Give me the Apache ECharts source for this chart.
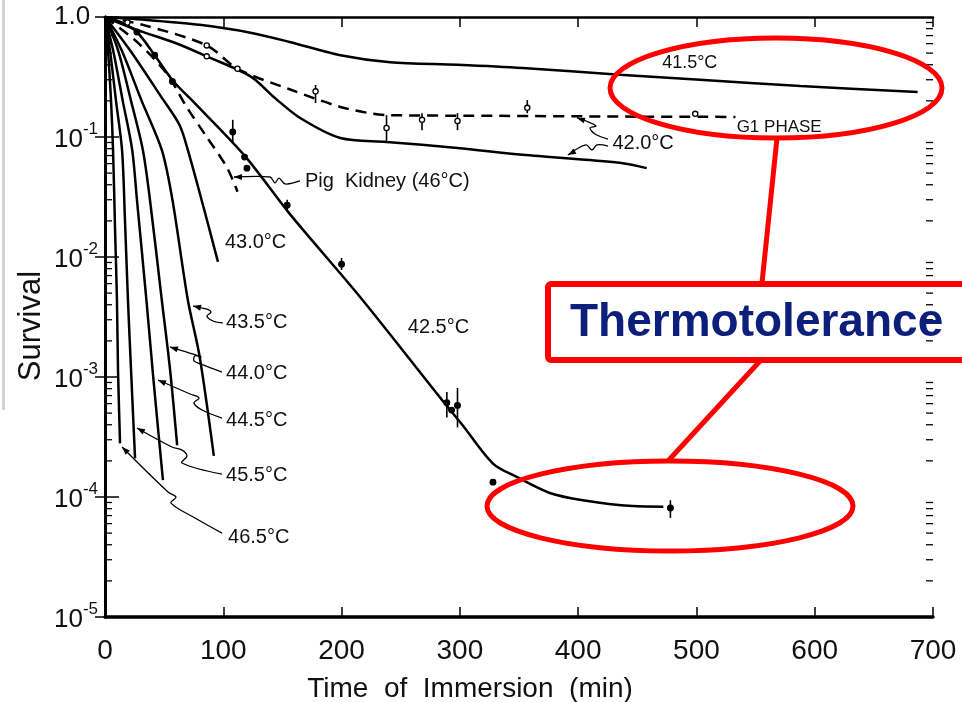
<!DOCTYPE html>
<html>
<head>
<meta charset="utf-8">
<script src="https://cdn.jsdelivr.net/npm/echarts@6/dist/echarts.min.js"></script>
<style>
  html, body { margin: 0; padding: 0; background: #fff; }
  #chart { width: 962px; height: 702px; }
</style>
</head>
<body>
<div id="chart"></div>
<script>
// Survival of cells versus time of immersion at several temperatures.
// Times are in minutes, survival is the surviving fraction.

const t415 = [0, 38, 80, 123, 156, 199, 241, 298, 353, 435, 503, 588, 687];
const s415 = [1.0, 0.94, 0.86, 0.74, 0.62, 0.48, 0.42, 0.40, 0.376, 0.33, 0.30, 0.266, 0.237];

const t420 = [0, 27, 59, 86, 123, 144, 165, 199, 238, 298, 353, 435, 458];
const s420 = [1.0, 0.78, 0.61, 0.47, 0.32, 0.21, 0.144, 0.098, 0.091, 0.081, 0.071, 0.061, 0.055];

const tG1 = [0, 32, 86, 112, 156, 199, 227, 241, 334, 435, 533];
const sG1 = [1.0, 0.86, 0.58, 0.37, 0.25, 0.178, 0.156, 0.152, 0.150, 0.148, 0.147];

const t425 = [0, 13, 27, 42, 58, 74, 118, 156, 216, 283, 302, 328, 348, 376, 404, 446, 472];
const s425 = [1.0, 0.91, 0.75, 0.48, 0.29, 0.20, 0.070, 0.023, 0.0046, 6.8e-4, 4.0e-4, 1.9e-4, 1.47e-4, 1.08e-4, 9.4e-5, 8.4e-5, 8.3e-5];

const tPig = [0, 27, 52, 69, 86, 103, 112];
const sPig = [1.0, 0.62, 0.34, 0.178, 0.10, 0.056, 0.035];

const t430 = [0, 21, 47, 63, 70, 84, 95.5];
const s430 = [1.0, 0.53, 0.22, 0.126, 0.078, 0.0245, 0.0091];

const t435 = [0, 14, 31, 48, 57, 70, 80, 92];
const s435 = [1.0, 0.53, 0.20, 0.078, 0.030, 4.4e-3, 1.48e-3, 2.2e-4];

const t440 = [0, 11, 22, 32, 38, 48, 55, 61];
const s440 = [1.0, 0.53, 0.20, 0.078, 0.030, 4.4e-3, 1.15e-3, 2.7e-4];

const t445 = [0, 6.8, 15, 23, 27, 35, 41, 49];
const s445 = [1.0, 0.53, 0.20, 0.078, 0.030, 4.4e-3, 9.4e-4, 1.38e-4];

const t455 = [0, 4.2, 9.3, 14.4, 16.9, 19.4, 22, 25.4];
const s455 = [1.0, 0.53, 0.20, 0.078, 0.020, 4.4e-3, 1.15e-3, 2.1e-4];

const t465 = [0, 2.5, 5.1, 6.8, 8.5, 10.1, 11, 12.7];
const s465 = [1.0, 0.53, 0.20, 0.078, 0.017, 4.4e-3, 1.15e-3, 2.8e-4];

// Measured points: open circles (G1 phase / 42.0 °C) and filled dots (42.5 °C),
// with error-bar ends where a bar is drawn.
const openT  = [19, 86, 86, 112, 178, 238, 268, 298, 357, 499];
const openS  = [0.90, 0.58, 0.47, 0.37, 0.24, 0.119, 0.139, 0.136, 0.175, 0.156];
const openLo = [null, null, null, null, 0.192, 0.089, 0.114, 0.114, 0.158, null];
const openHi = [null, null, null, null, 0.271, 0.152, 0.158, 0.158, 0.203, null];

const dotT  = [27, 42, 57, 108, 118, 120, 154, 200, 289, 293, 298, 328, 478];
const dotS  = [0.75, 0.48, 0.29, 0.11, 0.068, 0.055, 0.027, 0.0087, 6.1e-4, 5.3e-4, 5.8e-4, 1.33e-4, 8.1e-5];
const dotLo = [null, null, null, 0.0875, null, null, 0.024, 0.0078, 4.6e-4, null, 3.8e-4, null, 6.7e-5];
const dotHi = [null, null, null, 0.139, null, null, 0.030, 0.0098, 7.5e-4, null, 8.1e-4, null, 9.4e-5];

// Curve labels: text, time, survival at the text's left-middle point
const labelText = ['41.5°C', 'G1 PHASE', '42.0°C', 'Pig  Kidney (46°C)', '43.0°C', '42.5°C',
                   '43.5°C', '44.0°C', '44.5°C', '45.5°C', '46.5°C'];
const labelT = [471, 534, 429, 169, 101.4, 256, 102.3, 102.3, 102.3, 102.3, 104];
const labelS = [0.414, 0.121, 0.0891, 0.0422, 0.0133, 2.61e-3, 2.82e-3, 1.08e-3, 4.38e-4, 1.50e-4, 4.64e-5];

// Leader lines from labels to curves (last point carries the arrow head)
const leaders = [
  [[164.8, 0.043], [152.2, 0.0406], [147.1, 0.0455], [143.7, 0.0414], [139.5, 0.0464], [109, 0.0464]],
  [[425.2, 0.0962], [414.2, 0.106], [410, 0.119], [415, 0.1235], [406.6, 0.136], [399, 0.144]],
  [[425.2, 0.0841], [415.9, 0.0858], [411.7, 0.078], [406.6, 0.0858], [391.4, 0.0708]],
  [[99.7, 2.82e-3], [91.3, 2.93e-3], [86.2, 3.22e-3], [89.6, 3.48e-3], [85.4, 3.69e-3], [74.4, 3.9e-3]],
  [[98.9, 1.10e-3], [81.2, 1.28e-3], [75.2, 1.36e-3], [76.1, 1.50e-3], [81.2, 1.47e-3], [54.9, 1.78e-3]],
  [[98.9, 4.55e-4], [82, 5.31e-4], [75.2, 6.07e-4], [79.5, 6.68e-4], [71.9, 7.22e-4], [44.8, 9.44e-4]],
  [[98.9, 1.55e-4], [65.1, 1.92e-4], [69.3, 2.2e-4], [65.1, 2.46e-4], [56.6, 2.61e-4], [27, 3.76e-4]],
  [[98.9, 5.0e-5], [76.1, 6.68e-5], [55.8, 8.9e-5], [60, 1.0e-4], [53.3, 1.10e-4], [14.4, 2.61e-4]]
];

const minorMultipliers = [2, 3, 4, 5, 6, 7, 8, 9];
const decadeExponents = [-5, -4, -3, -2, -1];

const FONT = '"Liberation Sans", Arial, Helvetica, sans-serif';
const INK = '#111';

function pairs(ts, ss) { return ts.map((t, i) => [t, ss[i]]); }

function curve(name, ts, ss, dashed) {
  return {
    name, type: 'line', data: pairs(ts, ss),
    showSymbol: false, symbol: 'none', smooth: 0.3,
    lineStyle: { color: '#000', width: 2.5, type: dashed ? [11, 7] : 'solid' },
    z: 3, silent: true
  };
}

function pointSeries(ts, ss, lo, hi, filled) {
  return {
    type: 'custom', data: pairs(ts, ss), z: 4, silent: true,
    renderItem(params, api) {
      const i = params.dataIndex;
      const p = api.coord([ts[i], ss[i]]);
      const kids = [];
      if (lo[i] != null && hi[i] != null) {
        const a = api.coord([ts[i], hi[i]]);
        const b = api.coord([ts[i], lo[i]]);
        kids.push({ type: 'line', shape: { x1: a[0], y1: a[1], x2: b[0], y2: b[1] },
                    style: { stroke: '#000', lineWidth: 1.6 } });
      }
      kids.push({ type: 'circle', shape: { cx: p[0], cy: p[1], r: filled ? 2.8 : 2.6 },
                  style: { fill: filled ? '#000' : '#fff', stroke: '#000', lineWidth: 1.3 } });
      return { type: 'group', children: kids };
    }
  };
}

const minorValues = [];
decadeExponents.forEach(e => minorMultipliers.forEach(m => minorValues.push(m * Math.pow(10, e))));

const chart = echarts.init(document.getElementById('chart'), null, { renderer: 'canvas' });

chart.setOption({
  animation: false,
  backgroundColor: '#fff',
  grid: { left: 105, right: 29, top: 17, bottom: 85, containLabel: false, outerBoundsMode: 'none' },
  xAxis: [
    {
      type: 'value', min: 0, max: 700, interval: 100, position: 'bottom',
      name: 'Time  of  Immersion  (min)', nameLocation: 'middle', nameGap: 58, nameMoveOverlap: false,
      nameTextStyle: { fontFamily: FONT, fontSize: 28, color: INK, padding: [0, 98, 0, 0] },
      axisLine: { show: true, lineStyle: { color: '#000', width: 3.5 } },
      axisTick: { inside: true, length: 10, lineStyle: { color: '#000', width: 1.5 } },
      axisLabel: { margin: 20, fontFamily: FONT, fontSize: 28, color: INK },
      splitLine: { show: false }
    },
    {
      type: 'value', min: 0, max: 700, interval: 100, position: 'top',
      axisLine: { show: true, lineStyle: { color: '#000', width: 2.5 } },
      axisTick: { inside: true, length: 10, lineStyle: { color: '#000', width: 1.5 } },
      axisLabel: { show: false }, splitLine: { show: false }
    }
  ],
  yAxis: [
    {
      type: 'log', logBase: 10, min: 1e-5, max: 1, position: 'left',
      name: 'Survival', nameLocation: 'middle', nameGap: 58, nameMoveOverlap: false,
      nameTextStyle: { fontFamily: FONT, fontSize: 31, color: INK, padding: [0, 18, 0, 0] },
      axisLine: { show: true, lineStyle: { color: '#000', width: 3 } },
      axisTick: { inside: true, length: 14, lineStyle: { color: '#000', width: 1.5 } },
      axisLabel: {
        margin: 51, align: 'left',
        formatter(v) {
          const e = Math.round(Math.log10(v));
          return e === 0 ? '{one|1.0}' : '{b|10}{s|' + e + '}';
        },
        rich: {
          one: { fontFamily: FONT, fontSize: 26, color: INK },
          b: { fontFamily: FONT, fontSize: 26, color: INK, padding: [6, 0, 0, 0] },
          s: { fontFamily: FONT, fontSize: 17, color: INK, lineHeight: 17, verticalAlign: 'top' }
        }
      },
      splitLine: { show: false }
    },
    {
      type: 'log', logBase: 10, min: 1e-5, max: 1, position: 'right',
      axisLine: { show: true, lineStyle: { color: '#000', width: 3 } },
      axisTick: { inside: true, length: 10, lineStyle: { color: '#000', width: 1.5 } },
      axisLabel: { show: false }, splitLine: { show: false }
    }
  ],
  series: [
    curve('41.5°C', t415, s415, false),
    curve('42.0°C', t420, s420, false),
    curve('G1 phase', tG1, sG1, true),
    curve('42.5°C', t425, s425, false),
    curve('Pig Kidney (46°C)', tPig, sPig, true),
    curve('43.0°C', t430, s430, false),
    curve('43.5°C', t435, s435, false),
    curve('44.0°C', t440, s440, false),
    curve('44.5°C', t445, s445, false),
    curve('45.5°C', t455, s455, false),
    curve('46.5°C', t465, s465, false),
    pointSeries(openT, openS, openLo, openHi, false),
    pointSeries(dotT, dotS, dotLo, dotHi, true),
    {
      // log minor ticks on both vertical edges
      type: 'custom', silent: true, z: 2,
      data: minorValues.map(v => [0, v]),
      renderItem(params, api) {
        const v = minorValues[params.dataIndex];
        const a = api.coord([0, v]);
        const b = api.coord([700, v]);
        return { type: 'group', children: [
          { type: 'line', shape: { x1: a[0], y1: a[1], x2: a[0] + 7, y2: a[1] }, style: { stroke: '#000', lineWidth: 1.3 } },
          { type: 'line', shape: { x1: b[0] - 7, y1: b[1], x2: b[0], y2: b[1] }, style: { stroke: '#000', lineWidth: 1.3 } }
        ] };
      }
    },
    {
      // curve labels
      type: 'custom', silent: true, z: 5,
      data: labelT.map((t, i) => [t, labelS[i]]),
      renderItem(params, api) {
        const i = params.dataIndex;
        const p = api.coord([labelT[i], labelS[i]]);
        const size = i === 0 ? 18 : (i === 1 ? 17 : 20);
        return { type: 'text', x: p[0], y: p[1],
                 style: { text: labelText[i], fontFamily: FONT, fontSize: size, fill: INK,
                          align: 'left', verticalAlign: 'middle' } };
      }
    },
    {
      // leader lines with arrow heads
      type: 'custom', silent: true, z: 5,
      data: leaders.map(l => l[0]),
      renderItem(params, api) {
        const pts = leaders[params.dataIndex].map(p => api.coord(p));
        const n = pts.length;
        const end = pts[n - 1], prev = pts[n - 2];
        const dx = end[0] - prev[0], dy = end[1] - prev[1];
        const len = Math.hypot(dx, dy) || 1;
        const ux = dx / len, uy = dy / len;
        const L = 8, W = 3;
        const bx = end[0] - ux * L, by = end[1] - uy * L;
        return { type: 'group', children: [
          { type: 'polyline', shape: { points: pts, smooth: 0.35 },
            style: { stroke: '#000', lineWidth: 1.3, fill: null } },
          { type: 'polygon', shape: { points: [end, [bx - uy * W, by + ux * W], [bx + uy * W, by - ux * W]] },
            style: { fill: '#000' } }
        ] };
      }
    }
  ],
  graphic: [
    { type: 'rect', shape: { x: 2, y: 0, width: 3, height: 410 }, style: { fill: '#d2d2d2' }, z: 1 },
    { type: 'ellipse', shape: { cx: 776, cy: 88, rx: 166, ry: 50 },
      style: { fill: 'none', stroke: '#ff0000', lineWidth: 5 }, z: 100 },
    { type: 'ellipse', shape: { cx: 670, cy: 506, rx: 183, ry: 45 },
      style: { fill: 'none', stroke: '#ff0000', lineWidth: 5 }, z: 100 },
    { type: 'line', shape: { x1: 777, y1: 138, x2: 762, y2: 283 },
      style: { stroke: '#ff0000', lineWidth: 5 }, z: 100 },
    { type: 'line', shape: { x1: 760, y1: 361, x2: 668, y2: 461 },
      style: { stroke: '#ff0000', lineWidth: 5 }, z: 100 },
    { type: 'rect', shape: { x: 548, y: 284, width: 440, height: 76, r: 3 },
      style: { fill: 'none', stroke: '#ff0000', lineWidth: 6 }, z: 100 },
    { type: 'text', x: 570, y: 323, z: 101,
      style: { text: 'Thermotolerance', fontFamily: FONT, fontWeight: 'bold', fontSize: 46,
               fill: '#0c1f7a', align: 'left', verticalAlign: 'middle' } }
  ]
});
</script>
</body>
</html>
